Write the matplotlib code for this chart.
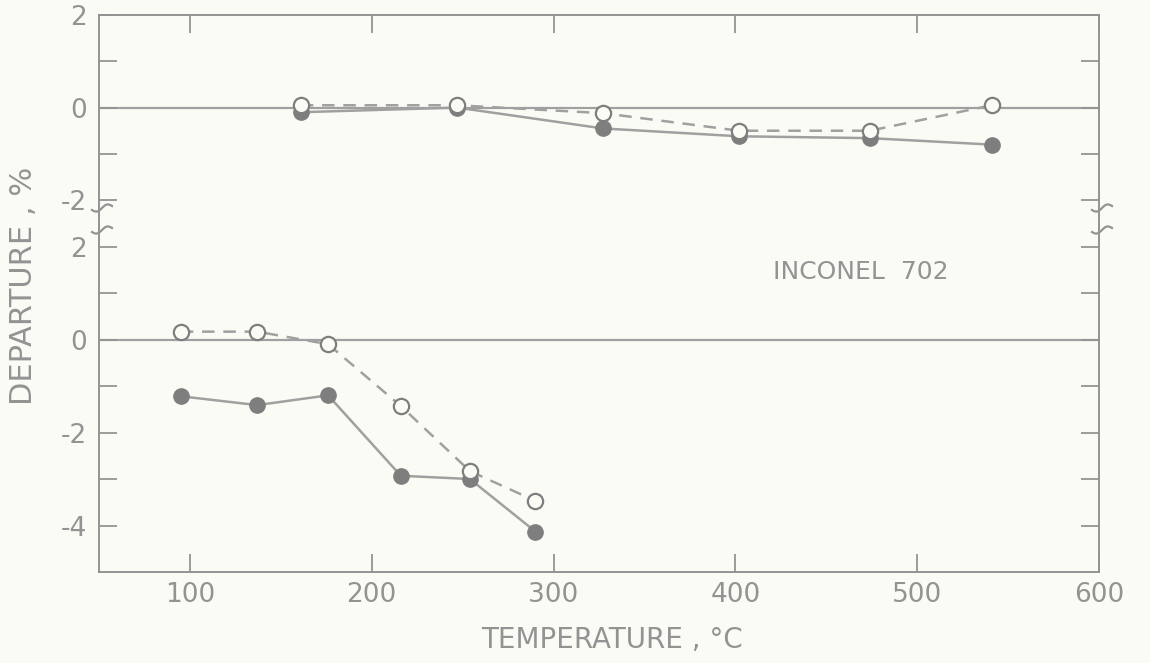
import numpy as np
import matplotlib
matplotlib.use('Agg')
import matplotlib.pyplot as plt

# readings taken off the original figure (INCONEL 702)
temp_top = [161, 247, 327, 402, 474, 541]
open_top = [0.05, 0.05, -0.12, -0.50, -0.50, 0.05]
filled_top = [-0.10, 0.0, -0.45, -0.62, -0.66, -0.80]

temp_bot = [95, 137, 176, 216, 254, 290]
open_bot = [0.17, 0.17, -0.10, -1.43, -2.83, -3.47]
filled_bot = [-1.22, -1.41, -1.20, -2.93, -3.00, -4.13]

xticks = [100, 200, 300, 400, 500, 600]

plt.rcParams['axes.unicode_minus'] = False
plt.rcParams['font.family'] = 'DejaVu Sans'

bg = '#fbfbf6'
ink = '#939393'
line_c = '#a0a0a0'
dot_c = '#7e7e7e'

W, H = 1150, 663
fig = plt.figure(figsize=(11.5, 6.63), dpi=100, facecolor=bg)

left, right = 99, 1099
top, split, bottom = 15, 221, 572
ax_top = fig.add_axes([left / W, 1 - split / H, (right - left) / W, (split - top) / H])
ax_bot = fig.add_axes([left / W, 1 - bottom / H, (right - left) / W, (bottom - split) / H])


def style(ax, majors, minors):
    ax.set_facecolor(bg)
    ax.set_xlim(50, 600)
    ax.set_xticks(xticks)
    ax.set_yticks(majors)
    ax.set_yticks(minors, minor=True)
    ax.set_yticklabels([str(v) for v in majors])
    ax.tick_params(axis='both', which='both', direction='in', length=13, width=1.3,
                   color=ink, labelcolor=ink, labelsize=19, right=True, top=True)
    ax.tick_params(axis='y', pad=9)
    for s in ax.spines.values():
        s.set_color(ink)
        s.set_linewidth(1.4)
    ax.axhline(0, color=line_c, lw=1.6, zorder=1)


style(ax_top, [-2, 0, 2], [-1, 1])
ax_top.set_ylim(-2.45, 2.0)
ax_top.spines['bottom'].set_visible(False)
ax_top.tick_params(axis='x', which='both', bottom=False, labelbottom=False)

style(ax_bot, [-4, -2, 0, 2], [-3, -1, 1])
ax_bot.set_ylim(-5.0, 2.55)
ax_bot.spines['top'].set_visible(False)
ax_bot.tick_params(axis='x', which='both', top=False, pad=7)

for ax, t, o, f in [(ax_top, temp_top, open_top, filled_top),
                    (ax_bot, temp_bot, open_bot, filled_bot)]:
    ax.plot(t, f, '-', color=line_c, lw=1.8, zorder=2)
    ax.plot(t, o, '--', color=line_c, lw=1.8, dashes=(5, 3.5), zorder=2)
    ax.plot(t, f, 'o', ms=11, mfc=dot_c, mec=dot_c, zorder=3)
    ax.plot(t, o, 'o', ms=11, mfc=bg, mec=dot_c, mew=1.6, zorder=4)

ax_bot.text(469, 1.46, 'INCONEL  702', color=ink, fontsize=18,
            ha='center', va='center')

# axis-break squiggles on both spines
tt = np.linspace(0, 1, 40)
for xs in (left, right):
    for ys in (210, 232):
        px = xs - 7 + 20 * tt
        py = ys - 4 * tt + 2.5 * np.sin(2 * np.pi * tt)
        fig.add_artist(plt.Line2D(px / W, 1 - py / H, color=ink, lw=1.6))

fig.text(612 / W, 1 - 640 / H, 'TEMPERATURE , °C', color=ink, fontsize=20,
         ha='center', va='center')
fig.text(24 / W, 1 - 286 / H, 'DEPARTURE , %', color=ink, fontsize=22,
         ha='center', va='center', rotation=90)

fig.savefig('out.png', dpi=100, facecolor=bg)
